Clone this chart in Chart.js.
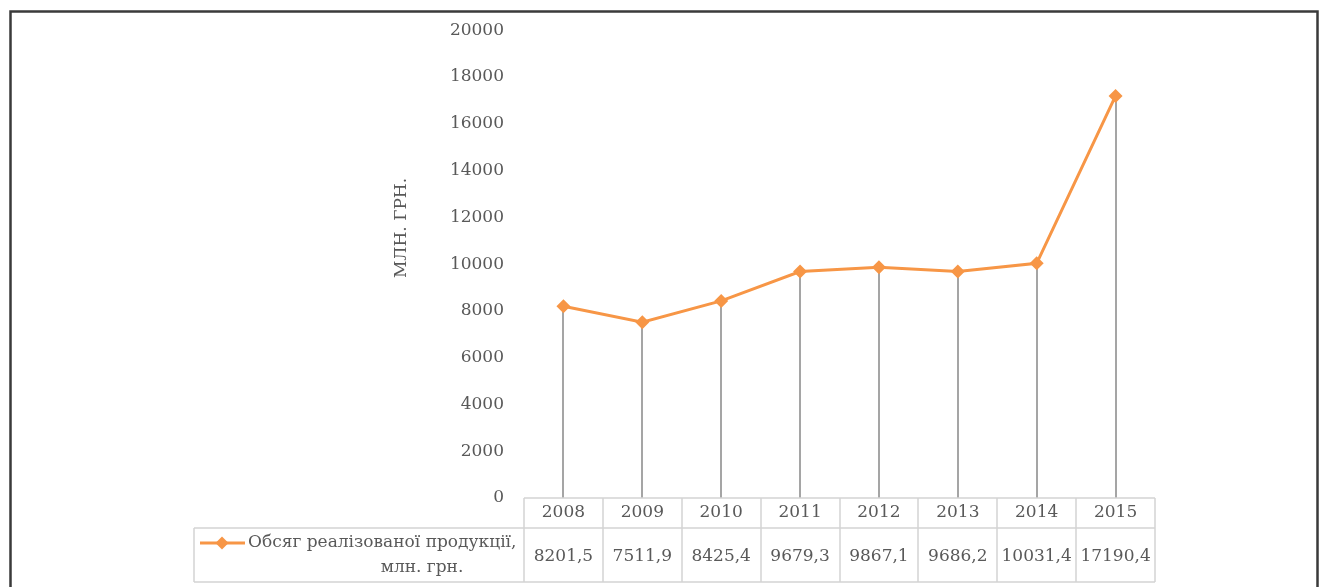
<!DOCTYPE html>
<html>
<head>
<meta charset="utf-8">
<script src="https://cdn.jsdelivr.net/npm/chart.js@4/dist/chart.umd.min.js"></script>
<style>
  html, body { margin: 0; padding: 0; background: #fff; }
  #wrap { width: 1326px; height: 587px; position: relative; }
</style>
</head>
<body>
<div id="wrap"><canvas id="chart"></canvas></div>
<script>
// Line chart with drop lines and an Excel-style data table under the axis.

var YEARS = ["2008", "2009", "2010", "2011", "2012", "2013", "2014", "2015"];
var VOLUME = [8201.5, 7511.9, 8425.4, 9679.3, 9867.1, 9686.2, 10031.4, 17190.4];
var SERIES_LABEL = ["Обсяг реалізованої продукції,", "млн. грн."];
var Y_TITLE = "МЛН. ГРН.";
var Y_MIN = 0, Y_MAX = 20000, Y_STEP = 2000;

var FONT = "'DejaVu Serif', serif";
var TEXT = "#595959";
var ORANGE = "#F79646";
var GRID = "#D4D4D4";

function fmtValue(v) {
  return v.toFixed(1).replace(".", ",");
}

// gray vertical lines from each point down to the axis
var dropLines = {
  id: "dropLines",
  beforeDatasetsDraw: function(chart) {
    var ctx = chart.ctx;
    var bottom = chart.chartArea.bottom;
    var meta = chart.getDatasetMeta(0);
    ctx.save();
    ctx.strokeStyle = "#A5A5A5";
    ctx.lineWidth = 2;
    meta.data.forEach(function(pt) {
      ctx.beginPath();
      ctx.moveTo(Math.round(pt.x), pt.y);
      ctx.lineTo(Math.round(pt.x), bottom);
      ctx.stroke();
    });
    ctx.restore();
  }
};

// data table, axis title + outer frame
var dataTable = {
  id: "dataTable",
  afterDraw: function(chart) {
    var ctx = chart.ctx;
    var xs = chart.scales.x;
    var area = chart.chartArea;
    var colW = xs.getPixelForValue(1) - xs.getPixelForValue(0);
    var left = area.left, right = area.right;
    var top = area.bottom, mid = top + 30, bot = top + 84;
    var labelLeft = 194;

    ctx.save();
    ctx.strokeStyle = GRID;
    ctx.lineWidth = 1.5;
    ctx.beginPath();
    ctx.moveTo(left, top); ctx.lineTo(right, top);
    ctx.moveTo(labelLeft, mid); ctx.lineTo(right, mid);
    ctx.moveTo(labelLeft, bot); ctx.lineTo(right, bot);
    ctx.moveTo(labelLeft, mid); ctx.lineTo(labelLeft, bot);
    for (var i = 0; i <= YEARS.length; i++) {
      var gx = Math.round(left + i * colW);
      ctx.moveTo(gx, top); ctx.lineTo(gx, bot);
    }
    ctx.stroke();

    ctx.fillStyle = TEXT;
    ctx.font = "17px " + FONT;
    ctx.textAlign = "center";
    ctx.textBaseline = "middle";
    YEARS.forEach(function(y, i) {
      var cx = xs.getPixelForValue(i);
      ctx.fillText(y, cx, (top + mid) / 2);
      ctx.fillText(fmtValue(VOLUME[i]), cx, (mid + bot) / 2 + 2);
    });

    // legend key
    var ky = mid + 15;
    ctx.strokeStyle = ORANGE;
    ctx.lineWidth = 3;
    ctx.beginPath();
    ctx.moveTo(200, ky); ctx.lineTo(245, ky);
    ctx.stroke();
    ctx.fillStyle = ORANGE;
    ctx.beginPath();
    ctx.moveTo(222, ky - 6.5); ctx.lineTo(228.5, ky); ctx.lineTo(222, ky + 6.5); ctx.lineTo(215.5, ky);
    ctx.closePath();
    ctx.fill();

    ctx.fillStyle = TEXT;
    ctx.textAlign = "left";
    ctx.fillText(SERIES_LABEL[0], 248, ky);
    ctx.textAlign = "center";
    ctx.fillText(SERIES_LABEL[1], 422, ky + 25);

    // rotated y-axis title
    ctx.save();
    ctx.translate(402, 228);
    ctx.rotate(-Math.PI / 2);
    ctx.fillText(Y_TITLE, 0, 0);
    ctx.restore();

    // outer frame of the chart
    ctx.strokeStyle = "#3A3A3A";
    ctx.lineWidth = 2.5;
    ctx.strokeRect(10.5, 11.5, 1307, 620);
    ctx.restore();
  }
};

new Chart(document.getElementById("chart"), {
  type: "line",
  data: {
    labels: YEARS,
    datasets: [{
      label: SERIES_LABEL.join(" "),
      data: VOLUME,
      borderColor: ORANGE,
      backgroundColor: ORANGE,
      borderWidth: 3,
      pointStyle: "rectRot",
      pointRadius: 7,
      pointHoverRadius: 7,
      pointBorderWidth: 0,
      tension: 0,
      fill: false
    }]
  },
  options: {
    responsive: true,
    maintainAspectRatio: false,
    animation: false,
    layout: { padding: { left: 392, right: 171, top: 30, bottom: 89 } },
    plugins: { legend: { display: false }, tooltip: { enabled: false } },
    scales: {
      x: {
        display: false,
        offset: true
      },
      y: {
        min: Y_MIN,
        max: Y_MAX,
        afterFit: function(scale) { scale.width = 132; },
        border: { display: false },
        grid: { display: false, drawTicks: false },
        ticks: {
          stepSize: Y_STEP,
          padding: 20,
          color: TEXT,
          font: { family: FONT, size: 17 },
          callback: function(v) { return String(v); }
        }
      }
    }
  },
  plugins: [dropLines, dataTable]
});
</script>
</body>
</html>
